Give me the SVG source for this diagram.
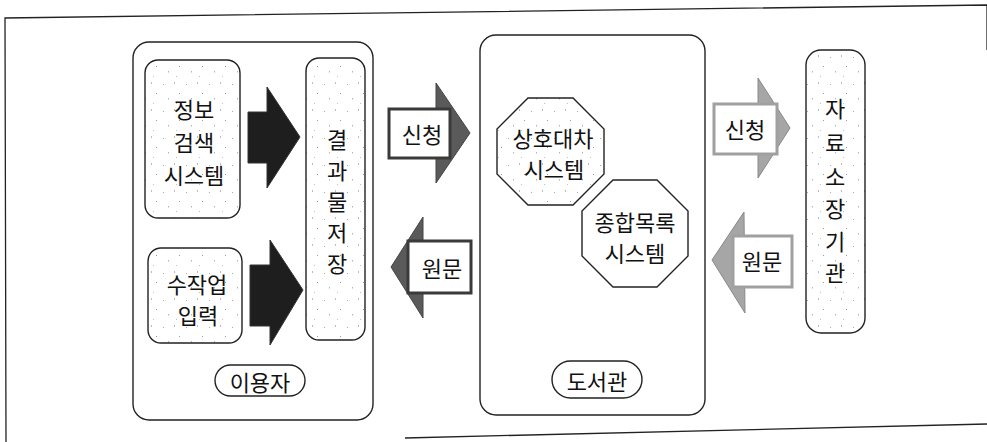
<svg xmlns="http://www.w3.org/2000/svg" width="987" height="442" viewBox="0 0 987 442">
<defs>
<pattern id="speck" width="23" height="27" patternUnits="userSpaceOnUse">
<rect width="23" height="27" fill="#fff"/>
<rect x="2" y="3" width="1" height="1" fill="#aaa"/>
<rect x="13" y="1" width="1" height="2" fill="#bbb"/>
<rect x="18" y="12" width="1" height="1" fill="#999"/>
<rect x="7" y="17" width="1" height="1.5" fill="#b5b5b5"/>
<rect x="15" y="22" width="1" height="1" fill="#c0c0c0"/>
</pattern>
<style>
.frame{fill:none;stroke:#222;stroke-width:1.3}
.group{fill:#fff;stroke:#222;stroke-width:1.4}
.box{fill:url(#speck);stroke:#222;stroke-width:1.4}
.plain{fill:#fff;stroke:#222;stroke-width:1.4}
.dark{fill:#1e1e1e;stroke:#333;stroke-width:1}
.headL{fill:#5a5a5a;stroke:#444;stroke-width:1}
.boxL{fill:#fff;stroke:#3a3a3a;stroke-width:3}
.headR{fill:#a6a6a6;stroke:#888;stroke-width:1}
.boxR{fill:#fff;stroke:#a0a0a0;stroke-width:3}
text{font-family:"Noto Sans CJK KR","Noto Sans",sans-serif;font-size:22px;fill:#111;text-anchor:middle;dominant-baseline:central}
</style>
</defs>

<g id="frame">
<path class="frame" d="M6,442 L5,18 L987,5 L987,50"/>
<path class="frame" d="M405,438 L987,424"/>
</g>

<g id="user-group">
<rect class="group" x="133" y="42" width="240" height="378" rx="16"/>
<rect class="plain" x="215" y="365" width="90" height="31" rx="15.5"/>
<text x="260" y="381">이용자</text>
</g>

<g id="info-search">
<rect class="box" x="145" y="60" width="95" height="158" rx="13"/>
<text x="194" y="108">정보</text>
<text x="194" y="141">검색</text>
<text x="194" y="174">시스템</text>
</g>

<g id="manual-input">
<rect class="box" x="148" y="248" width="94" height="95" rx="13"/>
<text x="197" y="283">수작업</text>
<text x="198" y="314">입력</text>
</g>

<g id="result-store">
<rect class="box" x="306" y="58" width="59" height="282" rx="13"/>
<text x="337" y="138">결</text>
<text x="337" y="169">과</text>
<text x="337" y="200">물</text>
<text x="337" y="231">저</text>
<text x="337" y="262">장</text>
</g>

<g id="library-group">
<rect class="group" x="480" y="35" width="225" height="380" rx="16"/>
<rect class="plain" x="552" y="361" width="90" height="37" rx="18.5"/>
<text x="597" y="380">도서관</text>
</g>

<g id="ill-system">
<polygon class="box" points="528,98 573,98 604,129 604,174 573,205 528,205 497,174 497,129"/>
<text x="553" y="137">상호대차</text>
<text x="554" y="168">시스템</text>
</g>

<g id="union-catalog">
<polygon class="plain" points="613,180 657,180 688,211 688,256 657,287 613,287 582,256 582,211"/>
<text x="635" y="221">종합목록</text>
<text x="635" y="252">시스템</text>
</g>

<g id="holding-institution">
<rect class="box" x="806" y="50" width="59" height="283" rx="15"/>
<text x="835" y="107">자</text>
<text x="835" y="141">료</text>
<text x="835" y="175">소</text>
<text x="835" y="207">장</text>
<text x="835" y="240">기</text>
<text x="835" y="271">관</text>
</g>

<g id="connectors">
<polygon class="dark" points="248,112 267,112 267,87 300,137 267,188 267,163 248,163"/>
<polygon class="dark" points="250,265 270,265 270,240 303,290 270,345 270,326 250,326"/>

<g id="request-1">
<polygon class="headL" points="436,83 470,133 436,183"/>
<rect class="boxL" x="389" y="109" width="61" height="49"/>
<text x="422" y="133">신청</text>
</g>
<g id="original-1">
<polygon class="headL" points="423,217 391,267 423,318"/>
<rect class="boxL" x="408" y="241" width="63" height="52"/>
<text x="442" y="267">원문</text>
</g>
<g id="request-2">
<polygon class="headR" points="758,78 790,128 758,178"/>
<rect class="boxR" x="714" y="104" width="63" height="50"/>
<text x="745" y="128">신청</text>
</g>
<g id="original-2">
<polygon class="headR" points="744,212 712,260 745,313"/>
<rect class="boxR" x="733" y="236" width="59" height="51"/>
<text x="762" y="260">원문</text>
</g>
</g>
</svg>
